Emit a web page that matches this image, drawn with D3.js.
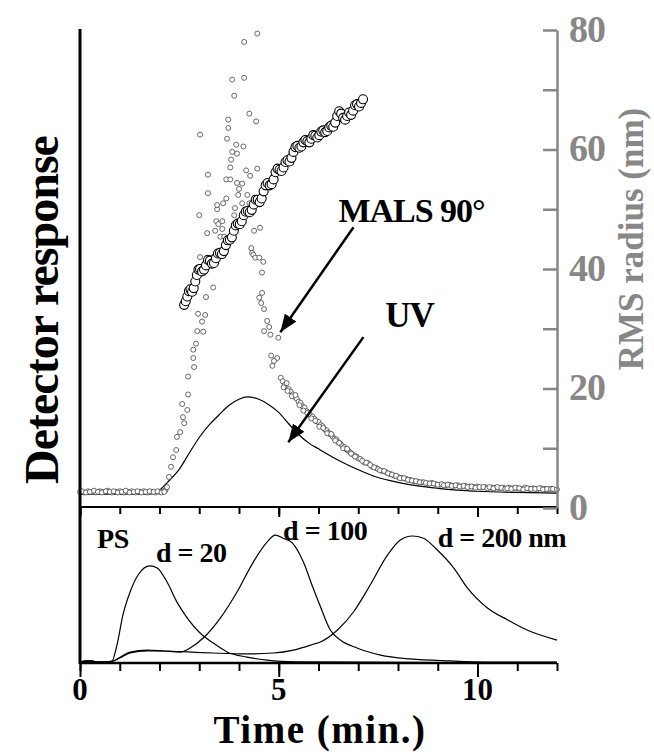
<!DOCTYPE html>
<html>
<head>
<meta charset="utf-8">
<script src="https://d3js.org/d3.v7.min.js"></script>
<style>
  body { margin: 0; background: #fff; }
  text { font-family: "Liberation Serif", "Times New Roman", serif; font-weight: bold; }
</style>
</head>
<body>
<div id="chart"></div>
<script>
// time axis (min.)
var timeTicks = [0, 5, 10];
var radiusTicks = [0, 20, 40, 60, 80];

// UV trace, upper panel [time, response]
var uvT = [0, 0.5, 1.0, 1.5, 1.8, 2.0, 2.2, 2.5, 2.75, 3.0, 3.25, 3.5, 3.75, 4.0, 4.2, 4.5, 4.75, 5.0, 5.25, 5.5, 5.75, 6.0, 6.5, 7.0, 7.5, 8.0, 8.5, 9.0, 9.5, 10, 11, 12];
var uvV = [2.3, 2.3, 2.3, 2.3, 2.4, 3.0, 4.3, 6.5, 9.2, 11.8, 13.9, 15.6, 17.2, 18.2, 18.6, 18.2, 17.3, 16.0, 14.1, 12.3, 10.9, 9.9, 8.0, 6.4, 5.1, 4.3, 3.7, 3.3, 3.0, 2.8, 2.6, 2.5];

// MALS 90 deg scattered points [time, response]
var malsPts = [
  [0.0,2.7],[0.1,2.6],[0.2,2.8],[0.3,2.7],[0.4,2.6],[0.5,2.8],[0.6,2.7],[0.7,2.9],[0.8,2.6],[0.9,2.7],
  [1.0,2.8],[1.1,2.6],[1.2,2.7],[1.3,2.8],[1.4,2.6],[1.5,2.7],[1.6,2.8],[1.7,2.6],[1.8,2.7],[1.9,2.6],
  [2.0,2.7],[2.1,2.8],[2.15,3.0],
  [0.05,2.8],[0.15,2.6],[0.25,2.7],[0.35,2.9],[0.45,2.7],[0.55,2.6],[0.65,2.8],[0.75,2.7],[0.85,2.8],[0.95,2.6],
  [1.05,2.7],[1.15,2.9],[1.25,2.6],[1.35,2.7],[1.45,2.8],[1.55,2.6],[1.65,2.7],[1.75,2.8],[1.85,2.7],[1.95,2.8],
  [2.05,2.6],[2.12,2.7],
  [2.19,3.5],[2.24,5.2],[2.29,6.9],[2.34,8.5],[2.42,9.7],[2.44,11.9],[2.52,12.7],[2.62,14.2],[2.59,15.2],
  [2.70,16.4],[2.57,17.4],[2.72,19.0],[2.72,22.0],[2.87,23.6],[2.85,25.1],[2.85,26.5],[2.92,27.5],
  [2.95,29.6],[3.10,29.5],[3.07,31.2],[2.97,32.5],[3.15,32.3],[3.17,35.3],[3.35,36.9],[3.02,42.0],
  [3.20,41.9],[3.35,42.0],[3.00,49.0],[3.20,46.0],[3.22,52.7],[3.22,55.8],[3.02,62.5],[3.40,46.4],
  [3.43,48.0],[3.45,50.0],[3.45,50.7],[3.48,47.5],[3.53,45.4],[3.58,46.7],[3.58,48.0],[3.60,51.0],
  [3.63,45.4],[3.68,51.8],[3.68,55.0],[3.70,61.8],[3.73,63.6],[3.73,65.0],[3.78,55.0],[3.78,57.0],
  [3.80,58.3],[3.83,59.6],[3.83,71.7],[3.88,49.0],[3.88,69.0],[3.90,50.2],[3.93,60.8],[3.95,54.4],
  [3.95,59.3],[3.98,52.4],[4.00,53.4],[4.08,51.0],[4.08,54.3],[4.11,60.5],[4.13,72.0],[4.13,78.0],
  [4.18,56.5],[4.21,52.4],[4.26,51.0],[4.26,66.0],[4.28,55.6],[4.31,43.5],[4.33,42.7],[4.36,42.4],
  [4.38,46.4],[4.41,41.9],[4.43,64.7],[4.46,56.8],[4.46,79.4],[4.51,41.9],[4.53,46.9],[4.61,41.2],
  [4.58,39.4],[4.58,36.0],[4.51,35.2],[4.56,34.3],[4.63,33.3],[4.71,31.3],[4.76,30.3],[4.63,29.6],
  [4.79,29.0],[4.99,28.5],[4.81,25.5],[4.96,25.1],[4.84,23.8],[4.88,24.6],
  [5.05,21.8],[5.10,21.2],[5.15,20.6],[5.20,20.9],[5.25,19.9],[5.30,19.5],[5.35,19.0],[5.40,18.6],
  [5.45,18.3],[5.50,17.8],[5.55,17.6],[5.60,17.0],[5.65,16.8],[5.70,16.2],[5.75,16.0],[5.80,15.5],
  [5.85,15.3],[5.90,14.9],[5.95,14.5],[6.00,14.4],[6.05,13.9],[6.10,13.7],[6.15,13.2],[6.20,13.0],
  [6.25,12.6],[6.30,12.3],[6.35,12.0],[6.40,11.6],[6.45,11.5],[6.50,11.0],[6.55,10.8],[6.60,10.4],
  [6.65,10.2],[6.70,9.8],[6.75,9.6],[6.80,9.3],[6.85,9.0],[6.90,8.8],[6.95,8.6],[7.00,8.3],
  [5.12,20.2],[5.22,19.6],[5.33,18.7],[5.42,18.9],[5.52,17.2],[5.62,16.3],[5.72,15.9],[5.82,15.0],
  [5.92,14.6],[6.02,13.6],[6.12,13.4],[6.22,12.5],[6.32,12.4],[6.42,11.3],[6.52,10.9],[6.62,10.0],
  [6.72,9.9],[6.82,9.1],[6.92,8.6],[7.05,8.2],[7.15,7.6],[7.25,7.5],[7.35,6.9],[7.45,6.7],
  [7.10,7.9],[7.20,7.6],[7.30,7.2],[7.40,6.8],[7.50,6.5],[7.60,6.2],[7.70,6.0],[7.80,5.7],
  [7.90,5.4],[8.00,5.2],[8.10,5.0],[8.20,4.9],[8.30,4.7],[8.40,4.5],[8.50,4.4],[8.60,4.3],
  [7.55,6.3],[7.65,6.2],[7.75,5.8],[7.85,5.6],[7.95,5.4],[8.05,5.0],[8.15,5.0],[8.25,4.7],
  [8.35,4.6],[8.45,4.5],[8.55,4.3],[8.65,4.3],[8.75,4.1],[8.85,4.2],[8.95,4.0],[9.05,3.9],
  [8.70,4.2],[8.80,4.1],[8.90,4.1],[9.00,3.9],[9.10,4.0],[9.20,3.8],[9.30,3.9],[9.40,3.7],
  [9.50,3.8],[9.60,3.6],[9.70,3.7],[9.80,3.6],[9.90,3.5],[10.0,3.6],[10.1,3.4],[10.2,3.5],
  [9.15,3.8],[9.25,3.9],[9.35,3.7],[9.45,3.8],[9.55,3.6],[9.65,3.7],[9.75,3.5],[9.85,3.6],
  [9.95,3.4],[10.05,3.5],[10.15,3.5],[10.25,3.3],[10.35,3.4],[10.45,3.4],[10.55,3.3],[10.65,3.4],
  [10.3,3.5],[10.4,3.3],[10.5,3.5],[10.6,3.4],[10.7,3.2],[10.8,3.4],[10.9,3.3],[11.0,3.3],
  [11.1,3.2],[11.2,3.4],[11.3,3.2],[11.4,3.3],[11.5,3.1],[11.6,3.3],[11.7,3.2],[11.8,3.1],
  [10.75,3.3],[10.85,3.2],[10.95,3.4],[11.05,3.3],[11.15,3.1],[11.25,3.3],[11.35,3.2],[11.45,3.2],
  [11.55,3.3],[11.65,3.1],[11.75,3.2],[11.85,3.2],[11.95,3.0],
  [11.9,3.2],[12.0,3.1]
];

// RMS radius (nm) [time, radius]
var rmsPts = [
  [2.62,34.0],[2.66,34.6],[2.70,35.4],[2.74,36.3],[2.78,36.6],[2.82,36.2],[2.86,36.8],[2.90,37.9],
  [2.94,39.0],[2.98,39.9],[3.02,40.0],[3.07,39.6],[3.12,39.9],[3.17,40.6],[3.22,41.5],[3.27,41.4],
  [3.32,40.9],[3.37,41.0],[3.42,41.8],[3.47,42.6],[3.52,42.7],[3.57,42.5],[3.62,43.0],[3.67,44.0],
  [3.72,44.8],[3.77,44.9],[3.82,45.3],[3.87,46.4],[3.92,47.3],[3.97,47.6],[4.02,47.5],[4.07,48.0],
  [4.12,49.0],[4.17,49.6],[4.22,49.7],[4.27,49.5],[4.32,49.9],[4.37,50.8],[4.42,51.6],[4.47,51.6],
  [4.52,51.2],[4.57,51.8],[4.62,53.0],[4.67,54.0],[4.72,54.4],[4.77,54.0],[4.82,54.2],[4.87,55.0],
  [4.92,56.2],[4.97,56.8],[5.02,56.6],[5.07,56.4],[5.12,57.0],[5.17,57.9],[5.22,58.2],[5.27,58.0],
  [5.32,58.6],[5.37,59.6],[5.42,60.4],[5.47,60.6],[5.52,60.3],[5.57,60.5],[5.62,61.2],[5.67,61.6],
  [5.72,61.4],[5.77,61.2],[5.82,61.8],[5.87,62.4],[5.92,62.3],[5.97,62.0],[6.02,62.4],[6.07,63.0],
  [6.12,63.2],[6.17,62.9],[6.22,63.1],[6.27,63.7],[6.32,64.0],[6.37,63.8],[6.42,64.5],[6.47,65.6],
  [6.52,66.4],[6.57,66.0],[6.62,65.3],[6.67,65.0],[6.72,65.6],[6.77,66.2],[6.82,65.8],[6.87,66.5],
  [6.92,67.4],[6.97,67.6],[7.02,67.2],[7.07,67.8],[7.12,68.4]
];

// PS standards, lower panel (relative response)
var psT20  = [0, 0.25, 0.5, 0.8, 0.93, 1.08, 1.26, 1.46, 1.76, 1.94, 2.19, 2.44, 2.7, 3.02, 3.35, 3.7, 4.2, 4.7, 5.47, 7, 9, 12];
var psV20  = [0.6, 1.3, 0.6, 1.0, 11.5, 30.8, 45.5, 56.4, 62.2, 60.9, 51.9, 39.0, 28.8, 19.2, 12.8, 7.1, 3.8, 1.9, 0.8, 0.5, 0.3, 0.3];
var psT100 = [0, 0.25, 0.5, 0.8, 1.0, 1.26, 1.69, 2.1, 2.52, 2.77, 3.1, 3.53, 3.95, 4.36, 4.71, 4.91, 5.11, 5.34, 5.62, 5.85, 6.05, 6.3, 6.55, 6.97, 7.56, 8.31, 9.32, 10.25, 12];
var psV100 = [0.6, 1.3, 0.6, 1.0, 3.5, 7.0, 8.3, 7.7, 7.0, 9.6, 16.0, 28.8, 45.5, 64.7, 77.6, 82.0, 80.0, 77.0, 64.7, 49.0, 36.0, 21.0, 14.7, 9.6, 5.1, 2.6, 1.3, 0.6, 0.5];
var psT200 = [0, 0.25, 0.5, 0.8, 1.0, 1.26, 1.69, 2.1, 2.8, 3.35, 4.2, 4.86, 5.37, 5.87, 6.05, 6.47, 6.88, 7.3, 7.73, 8.06, 8.36, 8.64, 8.99, 9.4, 9.75, 10.25, 10.76, 11.26, 12];
var psV200 = [0.6, 1.3, 0.6, 1.0, 3.2, 6.5, 7.8, 7.7, 7.0, 6.4, 5.8, 6.4, 8.3, 12.0, 13.5, 21.0, 32.7, 50.0, 69.0, 78.8, 81.4, 80.0, 72.4, 61.0, 48.0, 35.3, 27.6, 21.0, 14.7];

var W = 654, H = 752;
var svg = d3.select("#chart").append("svg").attr("width", W).attr("height", H);

var x = d3.scaleLinear().domain([0, 12]).range([80, 557]);
var yR = d3.scaleLinear().domain([0, 80]).range([508, 30]);      // RMS radius
var yUp = d3.scaleLinear().domain([0, 80]).range([508, 30]);     // detector response, upper panel
var yLow = d3.scaleLinear().domain([0, 100]).range([663, 507]);  // detector response, lower panel

var grey = "#878787";

// arrow marker
svg.append("defs").append("marker")
  .attr("id", "ah").attr("markerUnits", "userSpaceOnUse")
  .attr("markerWidth", 20).attr("markerHeight", 14)
  .attr("refX", 18).attr("refY", 7).attr("orient", "auto")
  .append("path").attr("d", "M0,0 L18,7 L0,14 Z").attr("fill", "#000");

function zip(ts, vs) { return ts.map(function (t, i) { return [t, vs[i]]; }); }

// upper panel
var lineUp = d3.line().x(function (d) { return x(d[0]); }).y(function (d) { return yUp(d[1]); }).curve(d3.curveMonotoneX);
svg.append("path").datum(zip(uvT, uvV)).attr("d", lineUp)
  .attr("fill", "none").attr("stroke", "#000").attr("stroke-width", 1.2);

svg.append("g").selectAll("circle").data(malsPts).enter().append("circle")
  .attr("cx", function (d) { return x(d[0]); })
  .attr("cy", function (d) { return yUp(d[1]); })
  .attr("r", 2.5)
  .attr("fill", "#fff").attr("stroke", "#444").attr("stroke-width", 0.8);

svg.append("g").selectAll("circle").data(rmsPts).enter().append("circle")
  .attr("cx", function (d) { return x(d[0]); })
  .attr("cy", function (d) { return yR(d[1]); })
  .attr("r", 4.5)
  .attr("fill", "#fff").attr("stroke", "#000").attr("stroke-width", 1.1);

// lower panel
var lineLow = d3.line().x(function (d) { return x(d[0]); }).y(function (d) { return yLow(d[1]); }).curve(d3.curveMonotoneX);
[zip(psT20, psV20), zip(psT100, psV100), zip(psT200, psV200)].forEach(function (s) {
  svg.append("path").datum(s).attr("d", lineLow)
    .attr("fill", "none").attr("stroke", "#000").attr("stroke-width", 1.2);
});

// axes
var minor = d3.range(0, 13);
function tickAxis(y0, len, vals) {
  var g = svg.append("g").attr("transform", "translate(0," + y0 + ")")
    .call(d3.axisBottom(x).tickValues(vals).tickSize(len).tickSizeOuter(0).tickFormat(""));
  g.select(".domain").remove();
  g.selectAll("line").attr("stroke", "#000").attr("stroke-width", 2);
  g.selectAll("text").remove();
  return g;
}
tickAxis(507, 7, minor);
tickAxis(507, 10, timeTicks);
tickAxis(663, 8, minor);
tickAxis(663, 14, timeTicks);
svg.append("line").attr("x1", x(0)).attr("x2", x(12)).attr("y1", 507).attr("y2", 507).attr("stroke", "#000").attr("stroke-width", 2);
svg.append("line").attr("x1", x(0)).attr("x2", x(12)).attr("y1", 663).attr("y2", 663).attr("stroke", "#000").attr("stroke-width", 2.5);
svg.append("line").attr("x1", x(0)).attr("x2", x(0)).attr("y1", 29).attr("y2", 664).attr("stroke", "#000").attr("stroke-width", 3);

svg.append("g").selectAll("text").data(timeTicks).enter().append("text")
  .attr("x", function (d) { return x(d); }).attr("y", 700)
  .attr("text-anchor", "middle").attr("font-size", 31).text(function (d) { return d; });

// right axis
var ra = svg.append("g").attr("transform", "translate(557,0)")
  .call(d3.axisRight(yR).tickValues(d3.range(0, 81, 10)).tickSize(-14).tickSizeOuter(0).tickPadding(12)
    .tickFormat(function (d) { return radiusTicks.indexOf(d) >= 0 ? d : ""; }));
ra.select(".domain").attr("stroke", grey).attr("stroke-width", 2.5);
ra.selectAll("line").attr("stroke", grey).attr("stroke-width", 2.5);
ra.selectAll("text").attr("fill", grey).attr("font-size", 38).attr("font-family", "Liberation Serif")
  .attr("font-weight", "bold").attr("dy", "0.3em").attr("letter-spacing", -1);

// axis titles
svg.append("text").attr("transform", "translate(58,310) rotate(-90)")
  .attr("text-anchor", "middle").attr("font-size", 48).attr("letter-spacing", -1).text("Detector response");
svg.append("text").attr("transform", "translate(643,239) rotate(-90)")
  .attr("text-anchor", "middle").attr("font-size", 35).attr("fill", grey).text("RMS radius (nm)");
svg.append("text").attr("x", 320).attr("y", 743)
  .attr("text-anchor", "middle").attr("font-size", 39).attr("letter-spacing", 1.5).text("Time (min.)");

// annotations
svg.append("text").attr("x", x(6.5)).attr("y", yUp(47.9)).attr("font-size", 34).attr("letter-spacing", -1).text("MALS 90°");
svg.append("text").attr("x", x(7.68)).attr("y", yUp(30.3)).attr("font-size", 35).attr("letter-spacing", -1).text("UV");
svg.append("line").attr("x1", x(6.88)).attr("y1", yUp(47.0)).attr("x2", x(5.04)).attr("y2", yUp(29.4))
  .attr("stroke", "#000").attr("stroke-width", 2.5).attr("marker-end", "url(#ah)");
svg.append("line").attr("x1", x(7.13)).attr("y1", yUp(28.6)).attr("x2", x(5.24)).attr("y2", yUp(11.0))
  .attr("stroke", "#000").attr("stroke-width", 2.5).attr("marker-end", "url(#ah)");

svg.append("text").attr("x", x(0.43)).attr("y", yLow(73.7)).attr("font-size", 28).attr("letter-spacing", -0.5).text("PS");
svg.append("text").attr("x", x(1.91)).attr("y", yLow(64.7)).attr("font-size", 28).attr("letter-spacing", -0.5).text("d = 20");
svg.append("text").attr("x", x(5.11)).attr("y", yLow(78.8)).attr("font-size", 28).attr("letter-spacing", -0.5).text("d = 100");
svg.append("text").attr("x", x(9.0)).attr("y", yLow(74.4)).attr("font-size", 28).attr("letter-spacing", -0.5).text("d = 200 nm");
</script>
</body>
</html>
